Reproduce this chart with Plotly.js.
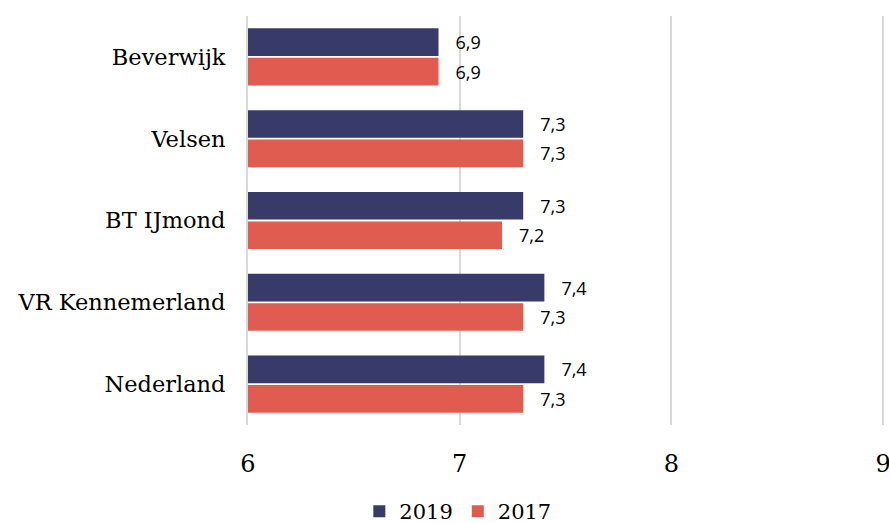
<!DOCTYPE html>
<html>
<head>
<meta charset="utf-8">
<script src="https://cdn.plot.ly/plotly-3.0.1.min.js"></script>
<style>html,body{margin:0;padding:0;background:#fff;}#chart{width:889px;height:523px;}</style>
</head>
<body>
<div id="chart"></div>
<script>
const categories = ["Beverwijk", "Velsen", "BT IJmond", "VR Kennemerland", "Nederland"];
const values2019 = [6.9, 7.3, 7.3, 7.4, 7.4];
const values2017 = [6.9, 7.3, 7.2, 7.3, 7.3];
const seriesNames = ["2019", "2017"];
const xTicks = [6, 7, 8, 9];

const fmt = v => '\u00a0\u00a0\u00a0' + v.toFixed(1).replace('.', ',');
const labelFont = {family: "Open Sans, Noto Sans, sans-serif", size: 18, color: "#000"};

const traces = [
  {type: 'bar', orientation: 'h', name: seriesNames[0], y: categories, x: values2019,
   marker: {color: '#383b6a'}, text: values2019.map(fmt), textposition: 'outside',
   textfont: labelFont, cliponaxis: false, hoverinfo: 'none'},
  {type: 'bar', orientation: 'h', name: seriesNames[1], y: categories, x: values2017,
   marker: {color: '#e05c51'}, text: values2017.map(fmt), textposition: 'outside',
   textfont: labelFont, cliponaxis: false, hoverinfo: 'none'}
];

const layout = {
  width: 889, height: 523,
  margin: {l: 248, r: 0, t: 16, b: 98, autoexpand: false},
  paper_bgcolor: '#fff', plot_bgcolor: '#fff',
  barmode: 'group', bargap: 0.28, bargroupgap: 0.06,
  font: {family: "DejaVu Serif, serif", color: '#000'},
  xaxis: {range: [6, 9.028], tickvals: xTicks, ticktext: xTicks.map(String),
          showgrid: true, gridcolor: '#d9d9d9', gridwidth: 2, zeroline: false,
          showline: false, ticks: 'outside', ticklen: 17, tickcolor: 'rgba(0,0,0,0)',
          ticklabeloverflow: 'allow',
          tickfont: {family: "DejaVu Serif, serif", size: 24, color: '#000'}, fixedrange: true},
  yaxis: {autorange: 'reversed', type: 'category', showgrid: false, zeroline: false,
          showline: true, linecolor: '#d9d9d9', linewidth: 2,
          ticks: 'outside', ticklen: 16, tickcolor: 'rgba(0,0,0,0)',
          tickfont: {family: "DejaVu Serif, serif", size: 22.5, color: '#000'}, fixedrange: true},
  legend: {orientation: 'h', x: 0.515, xanchor: 'center', xref: 'container',
           y: 0.022, yanchor: 'middle', yref: 'container',
           traceorder: 'normal', font: {family: "DejaVu Serif, serif", size: 21, color: '#000'},
           itemwidth: 30},
  showlegend: true
};

Plotly.newPlot('chart', traces, layout, {displayModeBar: false, staticPlot: true});
</script>
</body>
</html>
